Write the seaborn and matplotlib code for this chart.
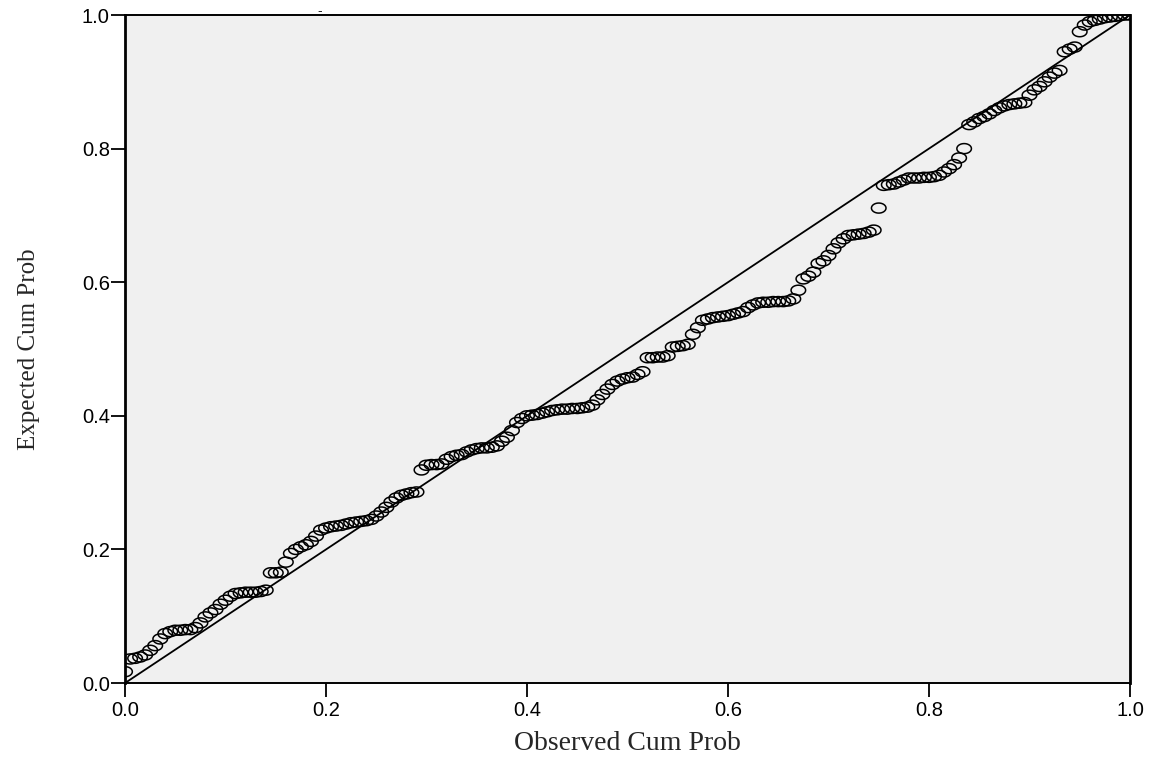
# P-P plot (SPSS style) - observed vs expected cumulative probability
import numpy as np
import pandas as pd
import matplotlib
matplotlib.use('Agg')
import matplotlib.pyplot as plt
from matplotlib.path import Path
import seaborn as sns

# observed cum prob (x) and expected cum prob (y)
observed = [
    0.000, 0.005, 0.010, 0.015, 0.020, 0.025, 0.030, 0.035, 0.040, 0.045,
    0.050, 0.055, 0.060, 0.065, 0.070, 0.075, 0.080, 0.085, 0.090, 0.095,
    0.100, 0.105, 0.110, 0.115, 0.120, 0.125, 0.130, 0.135, 0.140, 0.145,
    0.150, 0.155, 0.160, 0.165, 0.170, 0.175, 0.180, 0.185, 0.190, 0.195,
    0.200, 0.205, 0.210, 0.215, 0.220, 0.225, 0.230, 0.235, 0.240, 0.245,
    0.250, 0.255, 0.260, 0.265, 0.270, 0.275, 0.280, 0.285, 0.290, 0.295,
    0.300, 0.305, 0.310, 0.315, 0.320, 0.325, 0.330, 0.335, 0.340, 0.345,
    0.350, 0.355, 0.360, 0.365, 0.370, 0.375, 0.380, 0.385, 0.390, 0.395,
    0.400, 0.405, 0.410, 0.415, 0.420, 0.425, 0.430, 0.435, 0.440, 0.445,
    0.450, 0.455, 0.460, 0.465, 0.470, 0.475, 0.480, 0.485, 0.490, 0.495,
    0.500, 0.505, 0.510, 0.515, 0.520, 0.525, 0.530, 0.535, 0.540, 0.545,
    0.550, 0.555, 0.560, 0.565, 0.570, 0.575, 0.580, 0.585, 0.590, 0.595,
    0.600, 0.605, 0.610, 0.615, 0.620, 0.625, 0.630, 0.635, 0.640, 0.645,
    0.650, 0.655, 0.660, 0.665, 0.670, 0.675, 0.680, 0.685, 0.690, 0.695,
    0.700, 0.705, 0.710, 0.715, 0.720, 0.725, 0.730, 0.735, 0.740, 0.745,
    0.750, 0.755, 0.760, 0.765, 0.770, 0.775, 0.780, 0.785, 0.790, 0.795,
    0.800, 0.805, 0.810, 0.815, 0.820, 0.825, 0.830, 0.835, 0.840, 0.845,
    0.850, 0.855, 0.860, 0.865, 0.870, 0.875, 0.880, 0.885, 0.890, 0.895,
    0.900, 0.905, 0.910, 0.915, 0.920, 0.925, 0.930, 0.935, 0.940, 0.945,
    0.950, 0.955, 0.960, 0.965, 0.970, 0.975, 0.980, 0.985, 0.990, 0.995,
    1.000,
]
expected = [
    0.017, 0.036, 0.037, 0.039, 0.042, 0.049, 0.056, 0.066, 0.074, 0.077,
    0.079, 0.079, 0.080, 0.080, 0.083, 0.090, 0.099, 0.105, 0.110, 0.118,
    0.124, 0.130, 0.134, 0.135, 0.136, 0.136, 0.136, 0.137, 0.139, 0.165,
    0.165, 0.166, 0.181, 0.194, 0.200, 0.204, 0.207, 0.212, 0.220, 0.229,
    0.232, 0.234, 0.235, 0.236, 0.238, 0.240, 0.241, 0.242, 0.243, 0.245,
    0.250, 0.256, 0.263, 0.271, 0.277, 0.281, 0.283, 0.285, 0.286, 0.319,
    0.326, 0.327, 0.327, 0.328, 0.335, 0.339, 0.341, 0.342, 0.346, 0.349,
    0.351, 0.352, 0.352, 0.353, 0.355, 0.362, 0.368, 0.378, 0.390, 0.396,
    0.400, 0.401, 0.402, 0.404, 0.406, 0.408, 0.409, 0.410, 0.410, 0.411,
    0.411, 0.412, 0.413, 0.416, 0.424, 0.432, 0.440, 0.447, 0.452, 0.455,
    0.457, 0.458, 0.462, 0.466, 0.487, 0.487, 0.488, 0.488, 0.490, 0.503,
    0.504, 0.505, 0.507, 0.522, 0.532, 0.543, 0.545, 0.547, 0.548, 0.549,
    0.550, 0.552, 0.554, 0.556, 0.562, 0.566, 0.569, 0.570, 0.570, 0.571,
    0.571, 0.571, 0.572, 0.575, 0.588, 0.605, 0.609, 0.615, 0.628, 0.632,
    0.640, 0.650, 0.659, 0.665, 0.670, 0.671, 0.672, 0.673, 0.675, 0.678,
    0.711, 0.745, 0.746, 0.747, 0.750, 0.753, 0.756, 0.756, 0.756, 0.757,
    0.757, 0.758, 0.760, 0.765, 0.770, 0.776, 0.786, 0.800, 0.836, 0.840,
    0.845, 0.848, 0.852, 0.857, 0.861, 0.864, 0.866, 0.867, 0.868, 0.869,
    0.880, 0.888, 0.893, 0.900, 0.907, 0.913, 0.917, 0.945, 0.949, 0.952,
    0.975, 0.985, 0.990, 0.992, 0.994, 0.996, 0.997, 0.998, 0.999, 1.000,
    1.000,
]
ref_line = [0.0, 1.0]
ticks = [0.0, 0.2, 0.4, 0.6, 0.8, 1.0]
tick_labels = ['0.0', '0.2', '0.4', '0.6', '0.8', '1.0']

pp = pd.DataFrame({'Observed Cum Prob': observed, 'Expected Cum Prob': expected})

sns.set_style('white')
plt.rcParams['font.family'] = ['Liberation Sans', 'DejaVu Sans']

# the original is stretched sideways, so circles look like ellipses
theta = np.linspace(0, 2 * np.pi, 60)
ellipse = Path(np.column_stack([1.45 * np.cos(theta), np.sin(theta)]), closed=True)

fig = plt.figure(figsize=(11.6, 7.58), dpi=100)
ax = fig.add_axes([0.1078, 0.0989, 0.8663, 0.8813])
ax.set_facecolor('#f0f0f0')

ax.plot(ref_line, ref_line, color='black', linewidth=1.3, zorder=2)
sns.scatterplot(data=pp, x='Observed Cum Prob', y='Expected Cum Prob', ax=ax,
                marker=ellipse, s=110, facecolor='none', edgecolor='black',
                linewidth=1.1, zorder=3)

ax.set_xlim(0, 1)
ax.set_ylim(0, 1)
ax.set_xticks(ticks)
ax.set_xticklabels(tick_labels)
ax.set_yticks(ticks)
ax.set_yticklabels(tick_labels)
ax.tick_params(axis='both', bottom=True, left=True, direction='out', length=10,
               width=1.3, colors='black', labelsize=14.5, pad=1)
ax.tick_params(axis='x', pad=3)

for side in ['left', 'right']:
    ax.spines[side].set_linewidth(2.0)
for side in ['top', 'bottom']:
    ax.spines[side].set_linewidth(1.4)
for sp in ax.spines.values():
    sp.set_color('black')

ax.set_xlabel('Observed Cum Prob', family=['Liberation Serif', 'DejaVu Serif'],
              fontsize=20)
ax.set_ylabel('Expected Cum Prob', family=['Liberation Serif', 'DejaVu Serif'],
              fontsize=18)
ax.xaxis.set_label_coords(0.5, -0.072)
ax.yaxis.set_label_coords(-0.085, 0.5)

# small leftover mark at the top of the original
fig.text(0.276, 0.985, '-', fontsize=10, ha='center', va='center')

fig.savefig('out.png', dpi=100, facecolor='white')
